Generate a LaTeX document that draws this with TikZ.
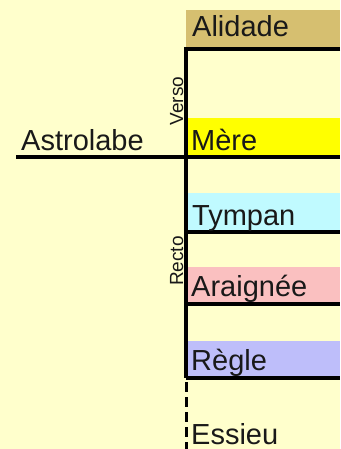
\documentclass[tikz,border=0pt]{standalone}
\usepackage{fontspec}
\setmainfont{Liberation Sans}
\definecolor{bgc}{RGB}{255,255,204}
\definecolor{alic}{RGB}{214,191,112}
\definecolor{merec}{RGB}{255,255,0}
\definecolor{tympc}{RGB}{192,250,255}
\definecolor{araic}{RGB}{250,192,192}
\definecolor{reglc}{RGB}{190,190,250}
\tikzset{
  lbl/.style={anchor=base west,inner sep=0pt,text=black!90,font=\fontsize{29}{34}\selectfont},
  side/.style={anchor=base,rotate=90,inner sep=0pt,text=black!90,font=\fontsize{19}{23}\selectfont},
  frame/.style={line width=3.6pt,black}
}
\begin{document}
\begin{tikzpicture}[x=1pt,y=-1pt]
\useasboundingbox (0,0) rectangle (340,449);
\fill[bgc] (0,0) rectangle (340,449);
% bands
\fill[alic] (186,10) rectangle (340,47);
\fill[merec] (186,118) rectangle (340,157);
\fill[tympc] (186,193) rectangle (340,232);
\fill[araic] (186,267) rectangle (340,304);
\fill[reglc] (186,341) rectangle (340,378);
% coordinates
\coordinate (top) at (186,49);
\coordinate (topR) at (340,49);
\coordinate (astL) at (16,157);
\coordinate (astR) at (340,157);
\coordinate (tymL) at (186,232);
\coordinate (tymR) at (340,232);
\coordinate (araL) at (186,304);
\coordinate (araR) at (340,304);
\coordinate (regL) at (186,378);
\coordinate (regR) at (340,378);
\coordinate (axEnd) at (186,449);
% lines
\draw[frame] (topR) -- (top) -- (regL);
\draw[frame] (astL) -- (astR);
\draw[frame] (tymL) -- (tymR);
\draw[frame] (araL) -- (araR);
\draw[frame] (regL) -- (regR);
\draw[line width=3pt,black,dash pattern=on 10pt off 5pt] ([yshift=-4pt]regL) -- (axEnd);
% labels
\node[lbl] (ast) at (21,150) {Astrolabe};
\node[lbl] (ali) at (192,37) {Alidade};
\node[lbl] (mer) at (191,150) {Mère};
\node[lbl] (tym) at (192,225) {Tympan};
\node[lbl] (ara) at (191,296) {Araignée};
\node[lbl] (reg) at (191,370) {Règle};
\node[lbl] (ess) at (191,444) {Essieu};
\node[side] (ver) at (183,101) {Verso};
\node[side] (rec) at (183,261) {Recto};
\end{tikzpicture}
\end{document}
